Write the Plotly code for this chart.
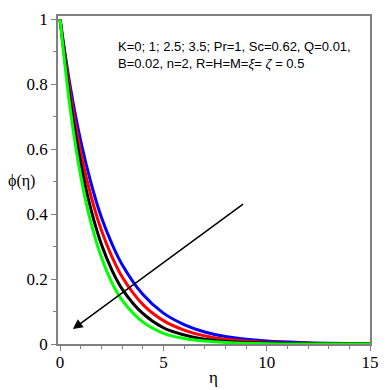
import plotly.graph_objects as go

eta = [0, 0.5, 1, 1.5, 2, 2.5, 3, 4, 5, 6, 7, 8, 10, 12, 15]
phi_blue = [1, 0.79, 0.625, 0.495, 0.39, 0.31, 0.245, 0.153, 0.095, 0.06, 0.037, 0.023, 0.009, 0.004, 0.001]
phi_red = [1, 0.77, 0.59, 0.455, 0.35, 0.27, 0.207, 0.122, 0.072, 0.043, 0.025, 0.015, 0.005, 0.002, 0.0004]
phi_black = [1, 0.745, 0.555, 0.413, 0.307, 0.229, 0.17, 0.094, 0.05, 0.028, 0.015, 0.008, 0.003, 0.001, 0.0]
phi_green = [1, 0.72, 0.517, 0.372, 0.267, 0.19, 0.135, 0.068, 0.033, 0.017, 0.009, 0.005, 0.001, 0.0, 0.0]

series = [("K=3.5", phi_blue, "#0000ff"), ("K=2.5", phi_red, "#ff0000"),
          ("K=1", phi_black, "#000000"), ("K=0", phi_green, "#00ff00")]

x_ticks = [0, 5, 10, 15]
y_ticks = [0, 0.2, 0.4, 0.6, 0.8, 1]
y_tick_text = ["0", "0.2", "0.4", "0.6", "0.8", "1"]

fig = go.Figure()
for name, vals, col in series:
    fig.add_trace(go.Scatter(x=eta, y=vals, mode="lines", name=name,
                             line=dict(color=col, width=3, shape="spline", smoothing=1.0)))

axis_common = dict(showline=True, linecolor="#808080", linewidth=1.5, mirror=True,
                   showgrid=False, zeroline=False, ticks="outside", tickcolor="#808080",
                   ticklen=5, tickwidth=1.2,
                   tickfont=dict(family="Liberation Serif", size=17, color="black"))

fig.update_layout(
    width=389, height=390,
    margin=dict(l=58, r=13, t=10, b=46),
    paper_bgcolor="white", plot_bgcolor="white",
    showlegend=False,
    xaxis=dict(range=[-0.1, 15.0], tickvals=x_ticks, ticklabelstandoff=-3,
               minor=dict(dtick=1, ticks="outside", ticklen=3, tickcolor="#808080"),
               **axis_common),
    yaxis=dict(range=[0, 1.01], tickvals=y_ticks, ticktext=y_tick_text,
               minor=dict(dtick=0.1, ticks="outside", ticklen=3, tickcolor="#808080"),
               **axis_common),
)

fig.add_annotation(x=0.497, y=-0.102, xref="paper", yref="paper", text="η", showarrow=False,
                   yanchor="middle", font=dict(family="Liberation Serif", size=17, color="black"))
fig.add_annotation(x=-0.167, y=0.497, xref="paper", yref="paper", text="ϕ(η)", showarrow=False,
                   xanchor="left", yanchor="middle",
                   font=dict(family="Liberation Serif", size=16, color="black"))

fig.add_annotation(x=2.7, y=0.945, xref="x", yref="y", xanchor="left", yanchor="top", align="left",
                   text="K=0; 1; 2.5; 3.5; Pr=1, Sc=0.62, Q=0.01,<br>B=0.02, n=2, R=H=M=<i>ξ</i>= <i>ζ</i> = 0.5",
                   showarrow=False, font=dict(family="Liberation Sans", size=13, color="black"))

fig.add_annotation(x=0.62, y=0.046, ax=8.93, ay=0.434, xref="x", yref="y", axref="x", ayref="y",
                   text="", showarrow=True, arrowhead=2, arrowsize=1.3, arrowwidth=1.5, arrowcolor="black")

fig.write_html("out.html", config={"displayModeBar": False},
               post_script="document.body.style.margin='0px';")
